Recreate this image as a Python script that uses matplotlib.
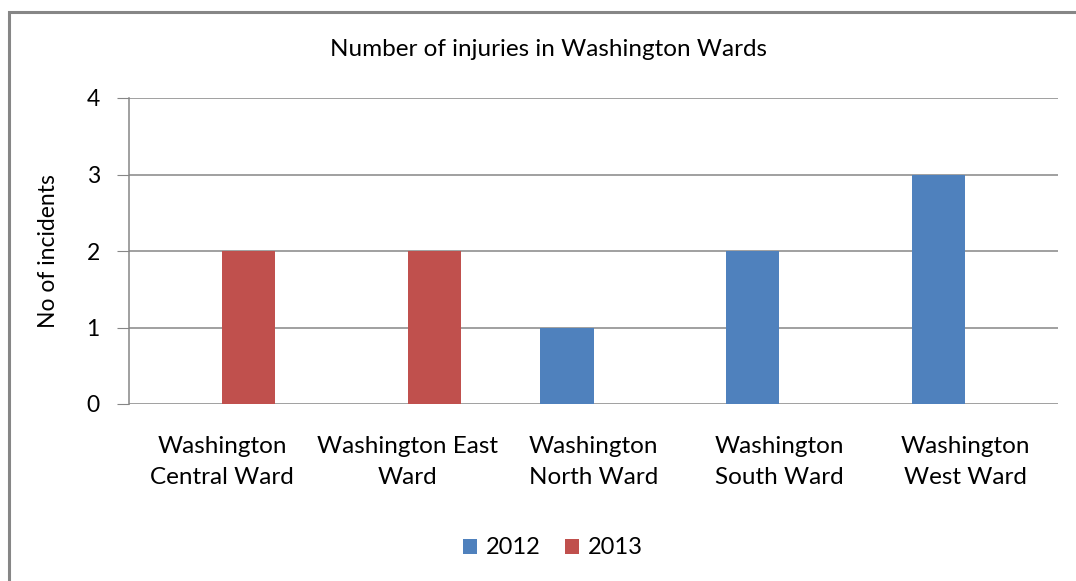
import matplotlib.pyplot as plt
import numpy as np
from matplotlib.patches import Rectangle

# chart data
wards = ['Washington\nCentral Ward', 'Washington East\nWard', 'Washington\nNorth Ward',
         'Washington\nSouth Ward', 'Washington\nWest Ward']
injuries_2012 = [0, 0, 1, 2, 3]
injuries_2013 = [2, 2, 0, 0, 0]
series_names = ['2012', '2013']
y_ticks = [0, 1, 2, 3, 4]

plt.rcParams['font.family'] = ['Lato', 'DejaVu Sans']

fig = plt.figure(figsize=(10.76, 5.81), dpi=100)
ax = fig.add_axes([129 / 1076, 1 - 404 / 581, (1058 - 129) / 1076, (404 - 98) / 581])

x = np.arange(len(wards))
w = 1 / 3.5
ax.bar(x - w / 2, injuries_2012, width=w, color='#4F81BD', label=series_names[0], zorder=3)
ax.bar(x + w / 2, injuries_2013, width=w, color='#C0504D', label=series_names[1], zorder=3)

ax.set_xlim(-0.5, len(wards) - 0.5)
ax.set_ylim(0, 4)
ax.set_yticks(y_ticks)
ax.set_xticks(x)
ax.set_xticklabels(wards, fontsize=17.5, linespacing=1.6)
ax.tick_params(axis='x', length=0, pad=23)
ax.tick_params(axis='y', length=9, color='#868686', labelsize=16.5, pad=12)
ax.grid(axis='y', color='#868686', linewidth=1.1, zorder=0)

for s in ['top', 'right', 'bottom']:
    ax.spines[s].set_visible(False)
ax.spines['left'].set_color('#868686')
ax.spines['left'].set_linewidth(1.1)

ax.set_ylabel('No of incidents', fontsize=16.5, labelpad=20)
fig.text(549 / 1076, 1 - 50 / 581, 'Number of injuries in Washington Wards',
         ha='center', va='center', fontsize=17.5)

fig.legend(loc='center', bbox_to_anchor=(553 / 1076, 1 - 548 / 581), ncol=2, frameon=False,
           fontsize=17, handlelength=0.6, handleheight=0.6, handletextpad=0.4, columnspacing=1.0)

# outer chart border
fig.patches.append(Rectangle((9 / 1076, -0.05), 1.2, 1 - 12 / 581 + 0.05, transform=fig.transFigure,
                             fill=False, edgecolor='#868686', linewidth=2.2))

fig.savefig('out.png', dpi=100)
